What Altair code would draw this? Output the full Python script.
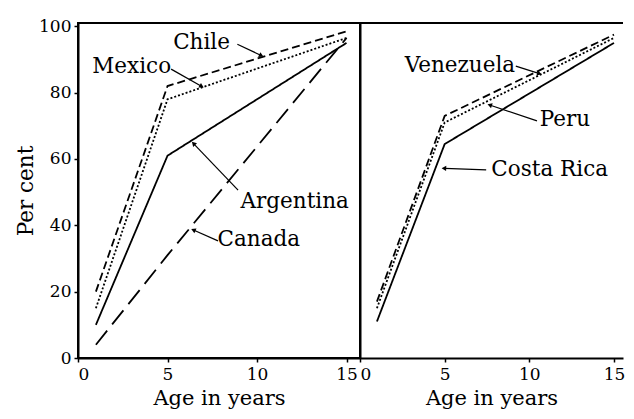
import math
import altair as alt
import pandas as pd

# ---- data ----
ages = [1, 5, 15]

left_names = ["Chile", "Mexico", "Argentina", "Canada"]
chile = [20, 82, 98.5]
mexico = [15, 78, 96.5]
argentina = [10, 61, 95]
canada = [4, 31, 96.5]

right_names = ["Venezuela", "Peru", "Costa Rica"]
venezuela = [17, 73, 97.5]
peru = [15, 71, 96.5]
costa_rica = [11, 64.5, 95]

# annotation label positions (data coords): label, x, y
left_text = [("Chile", 6.9, 95.0), ("Mexico", 3.0, 87.6),
             ("Argentina", 12.1, 47.0), ("Canada", 10.1, 35.6)]
right_text = [("Venezuela", 5.9, 88.0), ("Peru", 12.1, 71.8),
              ("Costa Rica", 11.2, 56.7)]
# leader lines: label, start x, start y, tip x, tip y
left_leaders = [("Chile", 8.9, 94.6, 10.2, 91.3), ("Mexico", 5.2, 87.1, 6.87, 82.0),
                ("Argentina", 8.94, 50.6, 6.48, 64.5), ("Canada", 7.82, 35.3, 6.48, 38.5)]
right_leaders = [("Venezuela", 9.2, 88.0, 10.55, 85.8), ("Peru", 10.45, 71.5, 7.7, 76.2),
                 ("Costa Rica", 7.45, 56.7, 5.0, 57.2)]

dash_left = [[8, 4], [2, 2], [1, 0], [18, 8]]
dash_right = [[5, 2], [2, 2], [1, 0]]

FONT = "DejaVu Serif"
H = 335
YMAX = 101


def long_df(names, series):
    rows = []
    for n, s in zip(names, series):
        for a, v in zip(ages, s):
            rows.append({"country": n, "age": a, "pct": v})
    return pd.DataFrame(rows)


def panel(names, series, dashes, texts, leaders, width, xmax, show_y):
    pxx = width / xmax
    pxy = H / YMAX
    df = long_df(names, series)
    xs = alt.Scale(domain=[0, xmax], nice=False, zero=False)
    ys = alt.Scale(domain=[0, YMAX], nice=False)
    if show_y:
        yaxis = alt.Axis(values=[0, 20, 40, 60, 80, 100], title="Per cent", grid=False,
                         tickSize=4, labelPadding=3, titlePadding=1)
    else:
        yaxis = alt.Axis(labels=False, ticks=False, title=None, grid=False)
    xaxis = alt.Axis(values=[0, 5, 10, 15], title="Age in years", grid=False,
                     tickSize=4, labelPadding=4, titlePadding=5)
    lines = alt.Chart(df).mark_line(color="black", strokeWidth=1.8).encode(
        x=alt.X("age:Q", scale=xs, axis=xaxis),
        y=alt.Y("pct:Q", scale=ys, axis=yaxis),
        detail="country:N",
        strokeDash=alt.StrokeDash("country:N", scale=alt.Scale(domain=names, range=dashes), legend=None),
    )
    tdf = pd.DataFrame(texts, columns=["label", "x", "y"])
    text = alt.Chart(tdf).mark_text(font=FONT, fontSize=21.5, color="black").encode(
        x="x:Q", y="y:Q", text="label:N")
    lrows, hrows = [], []
    for lab, sx, sy, tx, ty in leaders:
        lrows.append({"label": lab, "x": sx, "y": sy, "o": 0})
        lrows.append({"label": lab, "x": tx, "y": ty, "o": 1})
        dx = (tx - sx) * pxx
        dy = -(ty - sy) * pxy
        ang = math.degrees(math.atan2(dx, -dy)) % 360
        hrows.append({"label": lab, "x": tx, "y": ty, "ang": ang})
    ldf = pd.DataFrame(lrows)
    hdf = pd.DataFrame(hrows)
    lead = alt.Chart(ldf).mark_line(color="black", strokeWidth=1.2).encode(
        x="x:Q", y="y:Q", detail="label:N", order="o:Q")
    heads = alt.Chart(hdf).mark_point(shape="triangle", filled=True, color="black",
                                      size=28, opacity=1).encode(
        x="x:Q", y="y:Q", angle=alt.Angle("ang:Q", scale=None))
    layers = [lines, lead, heads, text]
    props = dict(width=width, height=H)
    if not show_y:
        top = alt.Chart(pd.DataFrame({"k": [0]})).mark_rule(color="black", strokeWidth=2).encode(
            x=alt.datum(0), x2=alt.datum(xmax), y=alt.datum(YMAX))
        layers.append(top)
        props["view"] = alt.ViewBackground(stroke="transparent")
    return alt.layer(*layers).properties(**props)


left = panel(left_names, [chile, mexico, argentina, canada], dash_left,
             left_text, left_leaders, 282, 15.75, True)
right = panel(right_names, [venezuela, peru, costa_rica], dash_right,
              right_text, right_leaders, 263, 15.53, False)

chart = alt.hconcat(left, right, spacing=0, bounds="flush").properties(
    padding={"left": 6, "top": 8, "right": 0, "bottom": 0},
    background="white",
).configure_view(stroke="black", strokeWidth=2).configure_axis(
    labelFont=FONT, labelFontSize=17, labelColor="black",
    titleFont=FONT, titleFontWeight="normal", titleColor="black",
    domainColor="black", domainWidth=2, tickColor="black", tickWidth=1.5,
).configure_axisX(titleFontSize=21).configure_axisY(titleFontSize=21.5)

chart.save("out.html", embed_options={"renderer": "svg", "actions": False})
